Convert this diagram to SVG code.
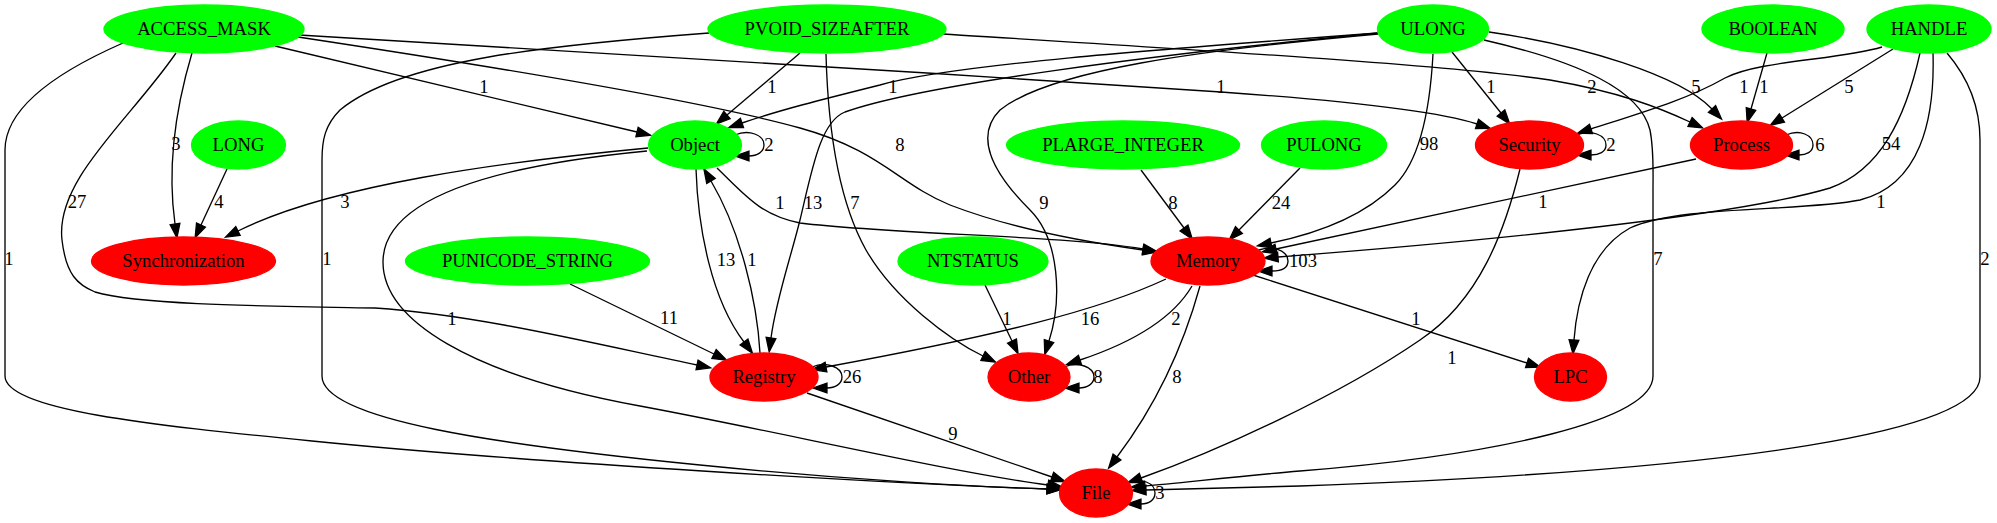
<svg xmlns="http://www.w3.org/2000/svg" width="1997" height="523" viewBox="0 0 1997 523">
<style>
text{font-family:"Liberation Serif","Times New Roman",serif;font-size:18.67px;text-anchor:middle;fill:#000}
.g{fill:#00ff00;stroke:#00ff00;stroke-width:1.33}
.r{fill:#ff0000;stroke:#ff0000;stroke-width:1.33}
#edges path{fill:none;stroke:#000;stroke-width:1.33;marker-end:url(#a)}
</style>
<defs>
<marker id="a" markerUnits="userSpaceOnUse" markerWidth="14" markerHeight="10" viewBox="0 0 13.3 9.4" refX="0" refY="4.7" orient="auto" overflow="visible">
<path d="M0,0 L13.3,4.7 L0,9.4 z" fill="#000" stroke="#000" stroke-width="1.2"/>
</marker>
</defs>
<rect width="1997" height="523" fill="#fff"/>
<g id="edges">
<!-- ACCESS_MASK -->
<path d="M275,46 L637,132"/>
<path d="M192,53 C178,100 166,160 175,224"/>
<path d="M176,53 C130,120 55,180 62,240 C66,275 78,285 95,292 C140,305 260,306 375,308 C480,315 600,345 697,365"/>
<path d="M123,43 C50,75 5,110 5,150 L5,376 C5,410 150,425 312,441 C520,462 900,484 1047,489"/>
<path d="M299,35 C500,48 900,70 1221,92 C1350,101 1440,112 1477,124"/>
<path d="M298,37 C450,60 700,100 800,128 C880,150 900,185 950,205 C1020,232 1100,244 1143,250"/>
<!-- PVOID_SIZEAFTER -->
<path d="M800,53 L727,115"/>
<path d="M826,54 C828,130 838,200 866,250 C895,300 950,340 983,356"/>
<path d="M709,33 C550,45 400,60 340,110 C325,125 322,140 322,160 L322,376 C322,420 500,445 700,465 C850,480 980,487 1047,489"/>
<path d="M943,34 C1200,50 1450,65 1550,80 C1620,92 1660,108 1690,122"/>
<!-- ULONG -->
<path d="M1378,33 C1150,50 950,65 880,85 C820,100 780,110 742,123"/>
<path d="M1378,33 C1150,55 920,85 845,112 C820,122 812,170 800,220 C790,260 776,300 771,338"/>
<path d="M1378,34 C1200,50 1050,70 1000,110 C975,135 990,170 1030,210 C1060,240 1062,300 1049,341"/>
<path d="M1433,54 C1430,110 1420,160 1395,185 C1360,220 1310,235 1271,243"/>
<path d="M1452,52 L1501,113"/>
<path d="M1489,32 C1580,45 1680,75 1712,109"/>
<path d="M1484,40 C1580,62 1640,90 1650,130 C1654,150 1653,170 1653,190 L1653,376 C1653,420 1500,455 1300,471 C1240,476 1180,483 1145,486"/>
<!-- BOOLEAN -->
<path d="M1767,53 L1751,109"/>
<!-- HANDLE -->
<path d="M1882,47 C1840,60 1760,60 1725,78 C1690,98 1650,110 1591,129"/>
<path d="M1893,49 L1782,118"/>
<path d="M1920,53 C1905,120 1880,170 1830,188 C1740,215 1500,240 1278,257"/>
<path d="M1933,53 C1935,120 1920,185 1860,200 C1800,212 1680,205 1630,228 C1590,250 1577,300 1574,340"/>
<path d="M1947,53 C1970,80 1980,110 1980,140 L1980,377 C1980,430 1750,470 1300,486 C1230,488 1180,489 1146,490"/>
<!-- LONG -->
<path d="M227,169 L201,225"/>
<!-- Object -->
<path d="M735,135 C749,129 764,135 764,145 C764,152 757,156 749,156"/>
<path d="M648,148 C500,162 330,185 238,231"/>
<path d="M717,168 C745,195 760,215 800,223 C900,235 1060,235 1143,249"/>
<path d="M696,169 C698,230 712,300 744,342"/>
<path d="M647,151 C470,168 383,205 383,262 C383,320 470,375 640,406 C780,432 950,472 1048,485"/>
<!-- Registry -->
<path d="M760,353 C757,300 740,230 711,181"/>
<path d="M812,367 C826,361 842,367 842,377 C842,384 835,388 827,388"/>
<path d="M807,393 L1052,477"/>
<!-- PLARGE / PULONG / PUNICODE / NTSTATUS -->
<path d="M1141,170 L1184,228"/>
<path d="M1300,168 L1239,230"/>
<path d="M570,284 L714,354"/>
<path d="M985,285 L1012,341"/>
<!-- Security / Process -->
<path d="M1577,135 C1591,129 1606,135 1606,145 C1606,152 1599,155 1591,155"/>
<path d="M1520,169 C1505,230 1480,300 1420,340 C1340,395 1220,450 1141,478"/>
<path d="M1786,135 C1800,129 1813,135 1813,145 C1813,152 1806,155 1799,155"/>
<path d="M1696,159 L1276,249"/>
<!-- Memory -->
<path d="M1259,250 C1273,245 1288,251 1288,261 C1288,268 1281,271 1272,271"/>
<path d="M1166,279 C1100,310 1000,335 826,367"/>
<path d="M1192,286 C1175,315 1140,340 1080,360"/>
<path d="M1200,286 C1185,340 1160,400 1117,457"/>
<path d="M1253,275 L1527,363"/>
<!-- Other / File -->
<path d="M1064,367 C1078,361 1094,367 1094,377 C1094,384 1087,388 1079,388"/>
<path d="M1127,483 C1141,477 1155,483 1155,493 C1155,500 1149,504 1141,504"/>
</g>
<g id="edge-labels">
<text x="484" y="93">1</text>
<text x="176" y="150">3</text>
<text x="77" y="208">27</text>
<text x="9" y="265">1</text>
<text x="1221" y="93">1</text>
<text x="900" y="151">8</text>
<text x="772" y="93">1</text>
<text x="855" y="209">7</text>
<text x="327" y="265">1</text>
<text x="1592" y="93">2</text>
<text x="893" y="93">1</text>
<text x="813" y="209">13</text>
<text x="1044" y="209">9</text>
<text x="1429" y="150">98</text>
<text x="1491" y="93">1</text>
<text x="1696" y="93">5</text>
<text x="1658" y="265">7</text>
<text x="1764" y="93">1</text>
<text x="1744" y="93">1</text>
<text x="1849" y="93">5</text>
<text x="1891" y="150">54</text>
<text x="1881" y="208">1</text>
<text x="1985" y="265">2</text>
<text x="219" y="208">4</text>
<text x="769" y="151">2</text>
<text x="345" y="208">3</text>
<text x="780" y="209">1</text>
<text x="726" y="266">13</text>
<text x="452" y="325">1</text>
<text x="752" y="266">1</text>
<text x="852" y="383">26</text>
<text x="953" y="440">9</text>
<text x="1173" y="209">8</text>
<text x="1281" y="209">24</text>
<text x="669" y="324">11</text>
<text x="1007" y="325">1</text>
<text x="1611" y="151">2</text>
<text x="1452" y="364">1</text>
<text x="1820" y="151">6</text>
<text x="1543" y="208">1</text>
<text x="1303" y="267">103</text>
<text x="1090" y="325">16</text>
<text x="1176" y="325">2</text>
<text x="1177" y="383">8</text>
<text x="1416" y="325">1</text>
<text x="1098" y="383">8</text>
<text x="1160" y="499">3</text>
</g>
<g id="ACCESS_MASK"><ellipse class="g" cx="204" cy="29" rx="100" ry="24"/><text x="204" y="35">ACCESS_MASK</text></g>
<g id="PVOID_SIZEAFTER"><ellipse class="g" cx="827" cy="29" rx="119" ry="24"/><text x="827" y="35">PVOID_SIZEAFTER</text></g>
<g id="ULONG"><ellipse class="g" cx="1433" cy="29" rx="55.5" ry="24"/><text x="1433" y="35">ULONG</text></g>
<g id="BOOLEAN"><ellipse class="g" cx="1773" cy="29" rx="71" ry="24"/><text x="1773" y="35">BOOLEAN</text></g>
<g id="HANDLE"><ellipse class="g" cx="1929" cy="29" rx="62" ry="24"/><text x="1929" y="35">HANDLE</text></g>
<g id="LONG"><ellipse class="g" cx="238.5" cy="145" rx="47" ry="24"/><text x="238.5" y="151">LONG</text></g>
<g id="Object"><ellipse class="g" cx="695" cy="145" rx="46.5" ry="24"/><text x="695" y="151">Object</text></g>
<g id="PLARGE_INTEGER"><ellipse class="g" cx="1123" cy="145" rx="116.5" ry="24"/><text x="1123" y="151">PLARGE_INTEGER</text></g>
<g id="PULONG"><ellipse class="g" cx="1324" cy="145" rx="62.5" ry="24"/><text x="1324" y="151">PULONG</text></g>
<g id="Security"><ellipse class="r" cx="1529.5" cy="145" rx="54" ry="24"/><text x="1529.5" y="151">Security</text></g>
<g id="Process"><ellipse class="r" cx="1741.5" cy="145" rx="51" ry="24"/><text x="1741.5" y="151">Process</text></g>
<g id="Synchronization"><ellipse class="r" cx="183.5" cy="261" rx="92" ry="24"/><text x="183.5" y="267">Synchronization</text></g>
<g id="PUNICODE_STRING"><ellipse class="g" cx="527.5" cy="261" rx="122" ry="24"/><text x="527.5" y="267">PUNICODE_STRING</text></g>
<g id="NTSTATUS"><ellipse class="g" cx="973" cy="261" rx="75" ry="24"/><text x="973" y="267">NTSTATUS</text></g>
<g id="Memory"><ellipse class="r" cx="1208" cy="261" rx="57" ry="24"/><text x="1208" y="267">Memory</text></g>
<g id="Registry"><ellipse class="r" cx="764" cy="377" rx="54" ry="24"/><text x="764" y="383">Registry</text></g>
<g id="Other"><ellipse class="r" cx="1029" cy="377" rx="41" ry="24"/><text x="1029" y="383">Other</text></g>
<g id="LPC"><ellipse class="r" cx="1570.5" cy="377" rx="36" ry="24"/><text x="1570.5" y="383">LPC</text></g>
<g id="File"><ellipse class="r" cx="1096" cy="493" rx="36.5" ry="24"/><text x="1096" y="499">File</text></g>
</svg>
